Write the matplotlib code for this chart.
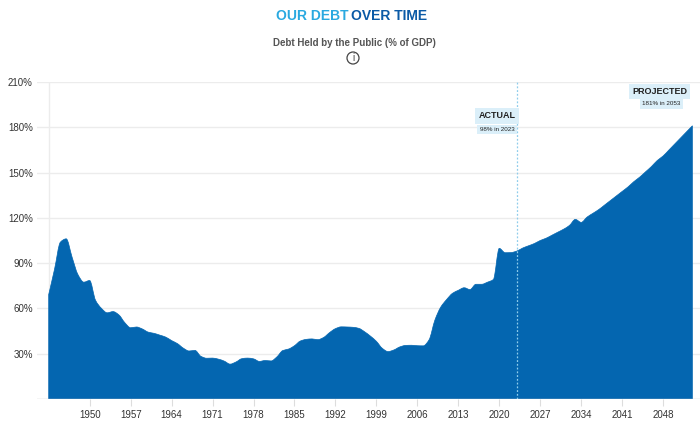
import matplotlib
matplotlib.use("Agg")
import matplotlib.pyplot as plt
from matplotlib import font_manager
from matplotlib.path import Path
from matplotlib.patches import PathPatch, Circle
import numpy as np

# debt held by the public, % of GDP (actual to 2023, projected after)
years = list(range(1943, 2054))
actual = [69.2, 86.0, 103.9, 106.1, 93.9, 82.4, 77.4, 78.5, 65.4, 60.1,
          57.1, 57.9, 55.7, 50.6, 47.2, 47.7, 46.4, 44.3, 43.5, 42.3,
          41.0, 38.7, 36.7, 33.7, 31.8, 32.2, 28.3, 27.0, 27.1, 26.4,
          25.1, 23.1, 24.5, 26.7, 27.1, 26.6, 24.9, 25.5, 25.2, 27.9,
          32.1, 33.1, 35.3, 38.4, 39.5, 39.8, 39.3, 40.8, 44.0, 46.6,
          47.8, 47.7, 47.5, 46.8, 44.5, 41.6, 38.2, 33.6, 31.4, 32.5,
          34.5, 35.5, 35.6, 35.3, 35.2, 39.2, 52.3, 60.9, 65.9, 70.0,
          72.0, 73.7, 72.5, 76.0, 76.0, 77.4, 79.2, 99.8, 96.9, 97.0,
          98.0]
projected = [100.0, 101.5, 103.0, 105.0, 106.5, 108.5, 110.5, 112.5, 115.0, 119.0,
             117.0, 120.5, 123.0, 125.5, 128.5, 131.5, 134.5, 137.5, 140.5, 144.0,
             147.0, 150.5, 154.0, 158.0, 161.0, 165.0, 169.0, 173.0, 177.0, 181.0]
debt = actual + projected

xticks = list(range(1950, 2049, 7))
yticks = [30, 60, 90, 120, 150, 180, 210]

names = {f.name for f in font_manager.fontManager.ttflist}
cond = "Liberation Sans Narrow" if "Liberation Sans Narrow" in names else "Liberation Sans"
plt.rcParams['font.family'] = [cond, 'DejaVu Sans']

fill_col = '#0466b0'
grid_col = '#ececec'


def smooth_path(x, y, base):
    # monotone cubic tangents, drawn as bezier segments
    x = np.asarray(x, float)
    y = np.asarray(y, float)
    h = np.diff(x)
    d = np.diff(y) / h
    m = np.zeros_like(y)
    m[0] = d[0]
    m[-1] = d[-1]
    for i in range(1, len(y) - 1):
        if d[i - 1] * d[i] <= 0:
            m[i] = 0
        else:
            m[i] = 2 / (1 / d[i - 1] + 1 / d[i])
    verts = [(x[0], base), (x[0], y[0])]
    codes = [Path.MOVETO, Path.LINETO]
    for i in range(len(x) - 1):
        verts += [(x[i] + h[i] / 3, y[i] + m[i] * h[i] / 3),
                  (x[i + 1] - h[i] / 3, y[i + 1] - m[i + 1] * h[i] / 3),
                  (x[i + 1], y[i + 1])]
        codes += [Path.CURVE4] * 3
    verts += [(x[-1], base), (x[0], base)]
    codes += [Path.LINETO, Path.CLOSEPOLY]
    return Path(verts, codes)


fig = plt.figure(figsize=(7, 4.23), dpi=100)
ax = fig.add_axes([37 / 700, 1 - 399 / 423, 663 / 700, (399 - 82) / 423])
ax.set_xlim(1941, 2054.3)
ax.set_ylim(0, 210)

for v in yticks:
    ax.axhline(v, color=grid_col, lw=1, zorder=0)
ax.axhline(0, color='#cccccc', lw=1, zorder=3)
ax.axvline(years[0], color=grid_col, lw=1, zorder=0)

ax.add_patch(PathPatch(smooth_path(years, debt, 0), fc=fill_col, ec=fill_col, lw=0.5, zorder=2))
ax.axvline(2023, color='#8fcdec', lw=0.9, ls=(0, (1.5, 1.5)), zorder=4)

for s in ax.spines.values():
    s.set_visible(False)
ax.set_xticks(xticks)
ax.set_xticklabels([str(t) for t in xticks], fontsize=7, color='#333333')
ax.set_yticks(yticks)
ax.set_yticklabels([f"{t}%" for t in yticks], fontsize=7, color='#333333')
ax.tick_params(axis='x', length=5, color='#dddddd', pad=3)
ax.tick_params(axis='y', length=0, pad=3)

box = dict(boxstyle='square,pad=0.35', fc='#dbeff9', ec='none')
ax.text(2019.6, 187.5, "ACTUAL", fontsize=6.5, fontweight='bold', color='#222222',
        ha='center', va='center', bbox=box, zorder=5)
ax.text(2019.6, 178.5, "98% in 2023", fontsize=4.5, color='#222222',
        ha='center', va='center', bbox=box, zorder=5)
ax.text(2052.1, 203.5, "PROJECTED", fontsize=6.5, fontweight='bold', color='#222222',
        ha='right', va='center', bbox=box, zorder=5)
ax.text(2047.7, 195.5, "181% in 2053", fontsize=4.5, color='#222222',
        ha='center', va='center', bbox=box, zorder=5)

fig.text(348 / 700, 1 - 16 / 423, "OUR DEBT", fontsize=10, fontweight='bold',
         color='#2aa9e0', ha='right', va='center')
fig.text(351 / 700, 1 - 16 / 423, "OVER TIME", fontsize=10, fontweight='bold',
         color='#0b5aa6', ha='left', va='center')
fig.text(354 / 700, 1 - 43 / 423, "Debt Held by the Public (% of GDP)", fontsize=7,
         fontweight='bold', color='#555555', ha='center', va='center')
fig.patches.append(Circle((353 / 700 * 7, (1 - 58 / 423) * 4.23), 6 / 100,
                          transform=fig.dpi_scale_trans, fc='none', ec='#444444', lw=0.9))
fig.text(353 / 700, 1 - 58 / 423, "i", fontsize=7, color='#444444',
         ha='center', va='center')

fig.savefig("out.png", dpi=100)
